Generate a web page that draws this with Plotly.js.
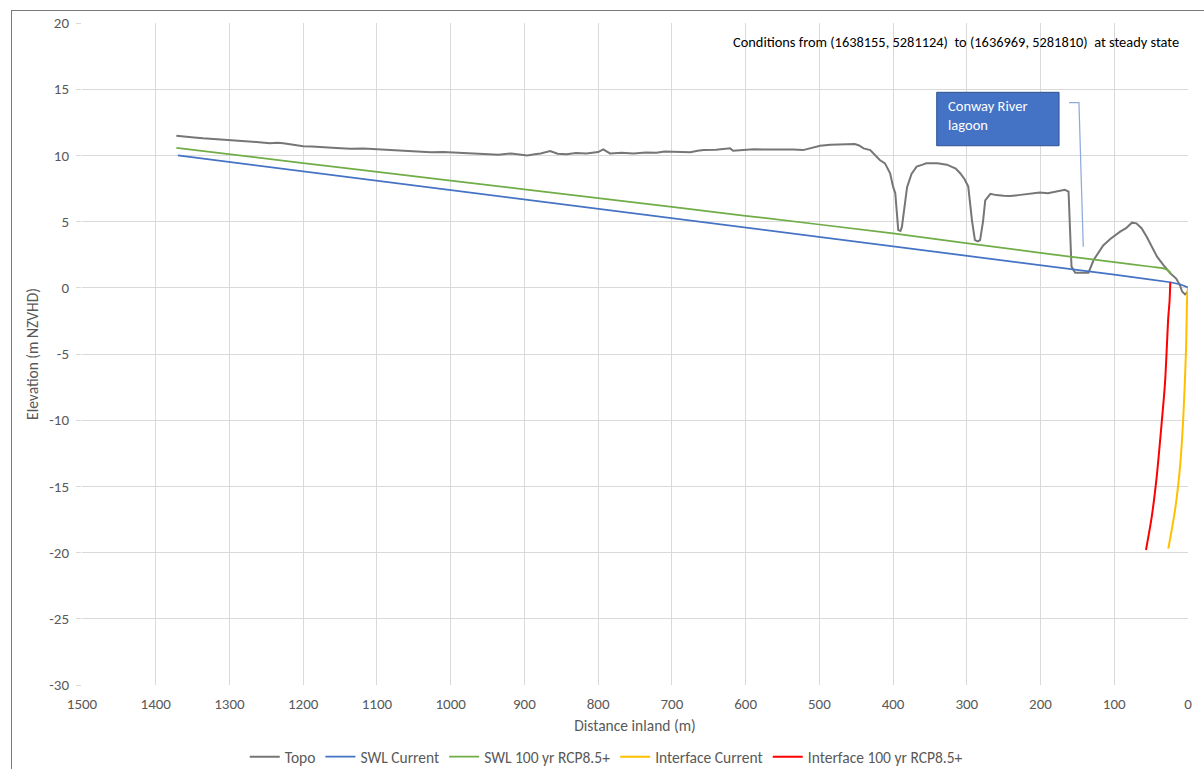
<!DOCTYPE html>
<html>
<head>
<meta charset="utf-8">
<script src="https://cdn.plot.ly/plotly-3.0.1.min.js"></script>
<style>
html,body{margin:0;padding:0;background:#fff;overflow:hidden;}
#wrap{position:relative;width:1204px;height:769px;}
#chart{position:absolute;left:0;top:0;width:1204px;height:769px;}
#frame{position:absolute;left:11px;top:10px;width:1300px;height:900px;border-left:1px solid #7a7a7a;border-top:1px solid #7a7a7a;pointer-events:none;}
</style>
</head>
<body>
<div id="wrap"><div id="chart"></div><div id="frame"></div></div>
<script>
// Topo profile (distance inland m, elevation m NZVHD)
const topoX = [1372,1360,1348,1336,1325,1317,1307,1297,1285,1272,1260,1245,1235,1227,1215,1200,1188,1173,1155,1136,1118,1100,1082,1064,1045,1027,1010,991,973,955,935,918,905,896,886,878,865,855,843,830,816,800,793,784,768,752,735,721,710,699,687,675,665,657,640,630,621,617,605,589,570,549,535,522,510,499,485,472,460,452,446,440,431,418,411,404,400,397,393,390,388,385,381,375,368,360,355,340,327,315,309,303,298,293,289,285,282,278,275,268,260,250,241,230,220,210,201,190,180,167,162,160,158,153,135,128,122,115,105,92,84,76,70,63,56,49,42,33,24,16,11,8,6,4,2,0];
const topoY = [11.49,11.45,11.36,11.29,11.25,11.2,11.22,11.16,11.12,11.04,11.0,10.91,10.95,10.91,10.82,10.7,10.68,10.6,10.56,10.5,10.52,10.46,10.4,10.3,10.28,10.23,10.26,10.2,10.14,10.08,10.05,10.15,10.05,10.0,10.08,10.15,10.33,10.12,10.08,10.18,10.15,10.25,10.46,10.15,10.2,10.15,10.22,10.2,10.3,10.28,10.26,10.23,10.35,10.4,10.42,10.5,10.53,10.35,10.42,10.46,10.44,10.46,10.44,10.4,10.55,10.73,10.8,10.83,10.85,10.86,10.75,10.53,10.4,9.65,9.4,8.65,7.64,7.14,4.37,4.3,4.6,6.0,7.6,8.6,9.15,9.3,9.4,9.4,9.3,9.0,8.65,8.2,7.64,5.1,3.6,3.5,3.6,5.0,6.6,7.1,7.0,6.95,6.93,7.0,7.05,7.1,7.2,7.15,7.25,7.4,7.27,4.5,1.6,1.14,1.14,2.1,2.6,3.2,3.7,4.24,4.5,4.92,4.87,4.5,3.86,3.1,2.35,1.7,1.1,0.7,0.2,-0.28,-0.4,-0.5,-0.4,-0.28];

// Still water level, current
const swlCurX = [1370,1200,1000,800,600,400,200,100,50,24,10,0];
const swlCurY = [10.0,8.8,7.37,5.95,4.55,3.15,1.7,1.0,0.62,0.42,0.25,0.02];

// Still water level, 100 yr RCP8.5+
const swl100X = [1372,1200,1000,800,600,400,200,160,100,50,33,28,24,22];
const swl100Y = [10.56,9.42,8.09,6.77,5.44,4.11,2.63,2.35,1.94,1.59,1.47,1.35,1.15,0.95];

// Saltwater interface, current
const intCurX = [0,1,2.7,6.3,10.8,17.6,26.7];
const intCurY = [0,-0.5,-4.7,-9.7,-13.5,-16.8,-19.7];

// Saltwater interface, 100 yr RCP8.5+
const int100X = [24,25,26.7,31.2,35.7,42.5,49.2,57];
const int100Y = [0.42,-1.0,-2.2,-7.2,-10.2,-14.3,-17.3,-19.8];

const xTicks = [1500,1400,1300,1200,1100,1000,900,800,700,600,500,400,300,200,100,0];
const yTicks = [20,15,10,5,0,-5,-10,-15,-20,-25,-30];

const FONT = "Carlito, Calibri, 'Liberation Sans', Arial, sans-serif";

const traces = [
  {x: topoX, y: topoY, name: 'Topo', mode: 'lines', line: {color: '#767676', width: 2}},
  {x: swlCurX, y: swlCurY, name: 'SWL Current', mode: 'lines', line: {color: '#4472C4', width: 1.75}},
  {x: swl100X, y: swl100Y, name: 'SWL 100 yr RCP8.5+', mode: 'lines', line: {color: '#70AD47', width: 1.75, shape: 'spline', smoothing: 0.6}},
  {x: intCurX, y: intCurY, name: 'Interface Current', mode: 'lines', line: {color: '#FFC000', width: 2, shape: 'spline', smoothing: 0.8}},
  {x: int100X, y: int100Y, name: 'Interface 100 yr RCP8.5+', mode: 'lines', line: {color: '#FF0000', width: 2, shape: 'spline', smoothing: 0.8}}
];

const layout = {
  width: 1204, height: 769,
  margin: {l: 82, r: 16, t: 23, b: 84, autoexpand: false},
  paper_bgcolor: 'rgba(0,0,0,0)', plot_bgcolor: '#ffffff',
  font: {family: FONT, size: 15, color: '#595959'},
  showlegend: true,
  legend: {orientation: 'h', x: 0.474, xanchor: 'center', y: -0.109, yanchor: 'middle',
           font: {family: FONT, size: 15.5, color: '#595959'}, itemwidth: 30, tracegroupgap: 0},
  xaxis: {
    range: [1500, 0], autorange: false, automargin: false,
    tickvals: xTicks, ticktext: xTicks.map(String),
    showgrid: true, gridcolor: '#d9d9d9', gridwidth: 1,
    zeroline: false, showline: false, ticks: '',
    ticklabelstandoff: 8,
    tickfont: {family: FONT, size: 15, color: '#595959'},
    title: {text: 'Distance inland (m)', font: {family: FONT, size: 15.5, color: '#595959'}, standoff: 8}
  },
  yaxis: {
    range: [-30, 20], autorange: false, automargin: false,
    tickvals: yTicks, ticktext: yTicks.map(String),
    showgrid: true, gridcolor: '#d9d9d9', gridwidth: 1,
    zeroline: false, showline: false, ticks: 'outside', ticklen: 5, tickcolor: '#d9d9d9',
    ticklabelstandoff: 4,
    tickfont: {family: FONT, size: 15, color: '#595959'},
    title: {text: 'Elevation (m NZVHD)', font: {family: FONT, size: 15.5, color: '#595959'}, standoff: 6}
  },
  shapes: [
    {type: 'rect', xref: 'paper', yref: 'paper', x0: 0.7728, x1: 0.8834, y0: 0.8146, y1: 0.8953,
     fillcolor: '#4472C4', line: {color: '#2F528F', width: 1}},
    {type: 'path', xref: 'paper', yref: 'paper', path: 'M 0.8924 0.8796 L 0.9014 0.8796 L 0.9053 0.6621',
     line: {color: '#8FAADC', width: 1.25}}
  ],
  annotations: [
    {xref: 'paper', yref: 'paper', x: 0.7812, y: 0.861, xanchor: 'left', yanchor: 'middle', align: 'left',
     text: 'Conway River<br>lagoon', showarrow: false, font: {family: FONT, size: 14.5, color: '#ffffff'}},
    {xref: 'paper', yref: 'paper', x: 0.9937, y: 0.9713, xanchor: 'right', yanchor: 'middle', align: 'right',
     text: 'Conditions from (1638155, 5281124)  to (1636969, 5281810)  at steady state', showarrow: false,
     font: {family: FONT, size: 14.4, color: '#000000'}}
  ]
};

Plotly.newPlot('chart', traces, layout, {displayModeBar: false, staticPlot: true});
</script>
</body>
</html>
